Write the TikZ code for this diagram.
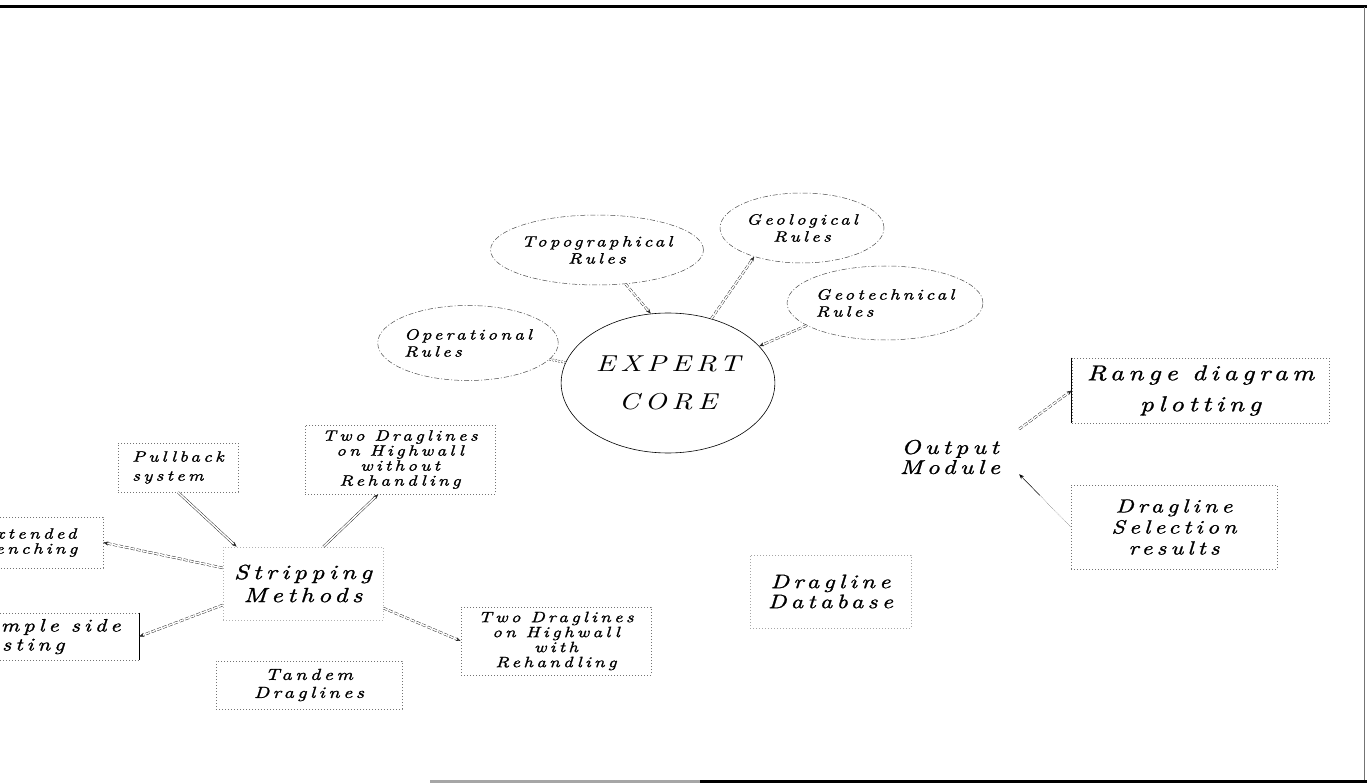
\documentclass[tikz,border=0pt]{standalone}
\usepackage{fontspec}
\usetikzlibrary{arrows.meta, positioning, shapes.geometric, calc}
\newfontfamily\plotfont{lmroman10-italic.otf}[LetterSpace=22, FakeStretch=1.25, FakeBold=1.2]
\newfontfamily\corefont{lmroman10-italic.otf}[LetterSpace=22, FakeStretch=1.25]

\begin{document}
\begin{tikzpicture}[x=1pt, y=-1pt, >={Stealth[length=5pt, width=4pt]}, font=\plotfont,
  rule/.style={ellipse, draw=black!70, line width=0.5pt, dash pattern=on 5pt off 2pt on 1pt off 2pt,
    inner sep=0pt, font=\plotfont\fontsize{15}{17}\selectfont},
  box/.style={rectangle, draw=black!55, line width=0.6pt, dash pattern=on 0.8pt off 2.2pt,
    inner sep=0pt, align=center, font=\plotfont\fontsize{15}{15}\selectfont},
  link/.style={draw=black!85, line width=0.45pt, double, double distance=1.5pt},
  dlink/.style={link, dash pattern=on 4pt off 2pt},
  dotlink/.style={link, dash pattern=on 1.5pt off 1.5pt},
]
  \useasboundingbox (0,0) rectangle (1367,783);
  % Rámeček
  \draw[line width=3pt] (0,7) -- (1367,7);
  \draw[black!55, line width=0.6pt] (1364,7) -- (1364,783);
  \draw[black!35, line width=3pt] (430,781) -- (700,781);
  \draw[line width=3pt] (700,781) -- (1367,781);

  % Jádro a pravidla
  \node[ellipse, draw, line width=0.6pt, minimum width=200pt, minimum height=140pt, align=center,
    font=\corefont\fontsize{23}{38}\selectfont] (core) at (668,383) {EXPERT\\CORE};
  \node[rule, minimum width=166pt, minimum height=75pt, align=left] (oper) at (468,343) {Operational\\Rules};
  \node[rule, minimum width=200pt, minimum height=70pt, align=center] (topo) at (597,250) {Topographical\\Rules};
  \node[rule, minimum width=164pt, minimum height=70pt, align=center] (geol) at (802,228) {Geological\\Rules};
  \node[rule, minimum width=166pt, minimum height=74pt, align=left] (geot) at (885,303) {Geotechnical\\Rules};

  \draw[dotlink] (oper) -- (core);
  \draw[dlink, ->] (topo.-50) -- (core.104);
  \draw[dlink, ->] (core.56) -- (geol.211);
  \draw[dlink, ->] (geot.196) -- (core.22);

  % Metody skrývky
  \node[box, draw=black!30, minimum width=160pt, minimum height=73pt,
    font=\plotfont\fontsize{20.5}{23}\selectfont] (strip) at (303,583.5) {Stripping\\Methods};
  \node[box, minimum width=120pt, minimum height=49pt, align=left,
    font=\plotfont\fontsize{15}{19}\selectfont] (pull) at (178,467.5) {Pullback\\system};
  \node[box, minimum width=190pt, minimum height=69pt] (nohand) at (400,459.5)
    {Two Draglines\\on Highwall\\without\\Rehandling};
  \node[box, minimum width=190pt, minimum height=68pt] (rehand) at (556,641)
    {Two Draglines\\on Highwall\\with\\Rehandling};
  \node[box, minimum width=186pt, minimum height=48pt,
    font=\plotfont\fontsize{16}{18}\selectfont] (tandem) at (309,685) {Tandem\\Draglines};
  \node[box, minimum width=150pt, minimum height=51pt,
    font=\plotfont\fontsize{15}{15}\selectfont] (ext) at (28,542.5) {Extended\\Benching};
  \node[box, minimum width=184pt, minimum height=47pt, align=left,
    font=\plotfont\fontsize{18}{19}\selectfont] (simple) at (47,636.5) {Simple side\\casting};
  \draw[line width=0.6pt] (simple.north east) -- (simple.south east);

  \draw[link, ->] (pull.south) -- (strip.151);
  \draw[link, ->] (strip.61) -- (nohand.238);
  \draw[dlink, ->] (strip.169) -- (ext.east);
  \draw[dlink, ->] (strip.195) -- (simple.east);
  \draw[dotlink] (tandem.north) -- (tandem.north |- strip.south);
  \draw[dlink, ->] (strip.-17) -- (rehand.west);

  % Výstup
  \node[minimum width=138pt, minimum height=60pt, align=center,
    font=\plotfont\fontsize{20}{20}\selectfont] (out) at (950,457) {Output\\Module};
  \node[box, minimum width=257pt, minimum height=65pt,
    font=\plotfont\fontsize{21.5}{31}\selectfont] (range) at (1200.5,390.5) {Range diagram\\plotting};
  \draw[line width=0.6pt] (range.north west) -- (range.south west);
  \node[box, minimum width=206pt, minimum height=84pt,
    font=\plotfont\fontsize{19}{21}\selectfont] (select) at (1174,527) {Dragline\\Selection\\results};
  \node[box, draw=black!35, minimum width=161pt, minimum height=73pt,
    font=\plotfont\fontsize{19.5}{20}\selectfont] (db) at (830.5,591.5) {Dragline\\Database};

  \draw[dlink, ->] (out.22) -- (range.west);
  \coordinate (selin) at ($(out.-14)!0.4!(select.west)$);
  \draw[black!60, line width=0.5pt, densely dotted] (select.west) -- (selin);
  \draw[line width=0.5pt, ->] (selin) -- (out.-14);
\end{tikzpicture}
\end{document}
